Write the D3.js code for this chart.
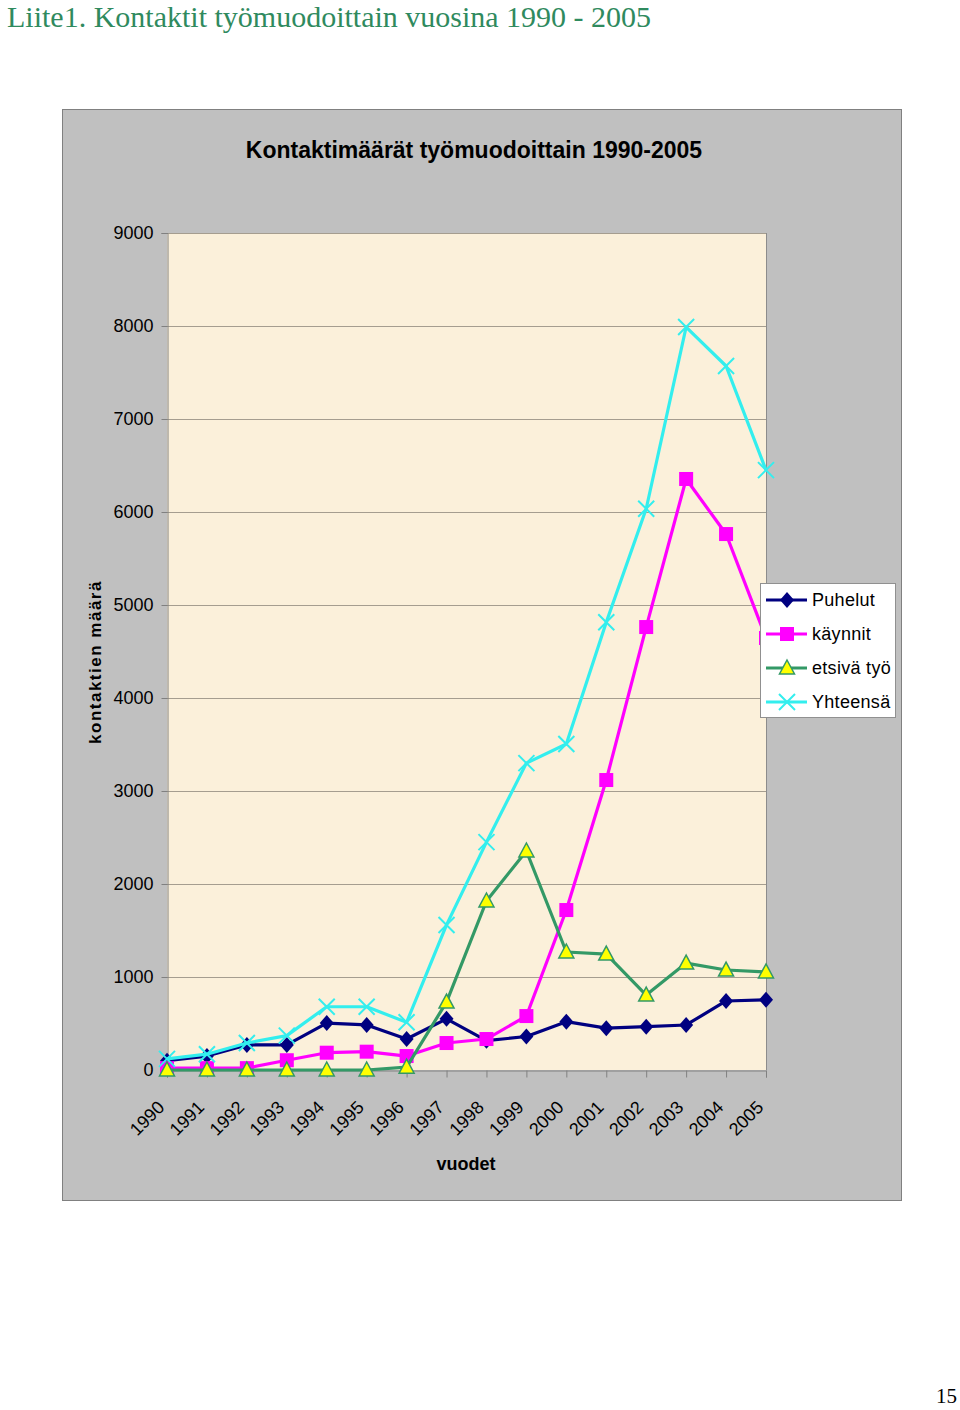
<!DOCTYPE html>
<html>
<head>
<meta charset="utf-8">
<script src="https://cdn.jsdelivr.net/npm/d3@7"></script>
<style>
  html, body { margin: 0; padding: 0; background: #ffffff; }
  svg { display: block; }
</style>
</head>
<body>
<div id="chart"></div>
<script>
// ---- data ----
const years = ["1990","1991","1992","1993","1994","1995","1996","1997","1998","1999","2000","2001","2002","2003","2004","2005"];
const puhelut   = [100, 150, 270, 270, 505, 485, 333, 550, 315, 360, 520, 450, 466, 484, 742, 755];
const kaynnit   = [20, 20, 20, 105, 186, 197, 150, 290, 333, 580, 1720, 3118, 4763, 6355, 5763, 4645];
const etsiva    = [0, 0, 0, 0, 0, 0, 30, 730, 1817, 2355, 1269, 1247, 806, 1150, 1075, 1054];
const yhteensa  = [120, 170, 290, 370, 680, 680, 513, 1560, 2450, 3300, 3505, 4815, 6035, 7989, 7570, 6450];
const yTicks    = [0, 1000, 2000, 3000, 4000, 5000, 6000, 7000, 8000, 9000];
const seriesNames = ["Puhelut", "käynnit", "etsivä työ", "Yhteensä"];

const W = 960, H = 1410;
const svg = d3.select("#chart").append("svg").attr("width", W).attr("height", H);

// page title
svg.append("text").attr("x", 7).attr("y", 27)
  .attr("font-family", "Liberation Serif, Times New Roman, serif")
  .attr("font-size", 30).attr("fill", "#2f8a5e")
  .text("Liite1. Kontaktit työmuodoittain vuosina 1990 - 2005");

// page number
svg.append("text").attr("x", 957).attr("y", 1403).attr("text-anchor", "end")
  .attr("font-family", "Liberation Serif, Times New Roman, serif")
  .attr("font-size", 21).attr("fill", "#000")
  .text("15");

// chart area
svg.append("rect").attr("x", 62.5).attr("y", 109.5).attr("width", 839).attr("height", 1091)
  .attr("fill", "#c0c0c0").attr("stroke", "#808080").attr("stroke-width", 1);

svg.append("text").attr("x", 474).attr("y", 158).attr("text-anchor", "middle")
  .attr("font-family", "Liberation Sans, Arial, sans-serif").attr("font-weight", "bold")
  .attr("font-size", 23).attr("fill", "#000")
  .text("Kontaktimäärät työmuodoittain 1990-2005");

const plot = { left: 167, right: 766, top: 233, bottom: 1070 };

const x = d3.scalePoint().domain(years).range([plot.left, plot.right]);
const y = d3.scaleLinear().domain([0, 9000]).range([plot.bottom, plot.top]);

// plot background
svg.append("rect").attr("x", plot.left).attr("y", plot.top)
  .attr("width", plot.right - plot.left).attr("height", plot.bottom - plot.top)
  .attr("fill", "#fbf0da");

// gridlines
svg.append("g").selectAll("line").data(yTicks.filter(d => d > 0)).join("line")
  .attr("x1", plot.left).attr("x2", plot.right)
  .attr("y1", d => Math.round(y(d)) + 0.5).attr("y2", d => Math.round(y(d)) + 0.5)
  .attr("stroke", "#a59d8f").attr("stroke-width", 1);

// right border of plot
svg.append("line").attr("x1", plot.right + 0.5).attr("x2", plot.right + 0.5)
  .attr("y1", plot.top).attr("y2", plot.bottom).attr("stroke", "#8c8c8c");

// y axis
const yAxis = svg.append("g").attr("transform", `translate(${plot.left + 0.5},0)`)
  .call(d3.axisLeft(y).tickValues(yTicks).tickSize(6).tickPadding(8).tickFormat(d3.format("d")));
yAxis.select(".domain").attr("stroke", "#808080");
yAxis.selectAll(".tick line").attr("stroke", "#808080");
yAxis.selectAll("text").attr("font-family", "Liberation Sans, Arial, sans-serif")
  .attr("font-size", 18).attr("fill", "#000");

// x axis
const xAxis = svg.append("g").attr("transform", `translate(0,${plot.bottom + 0.5})`)
  .call(d3.axisBottom(x).tickSize(7).tickFormat(d => d));
xAxis.select(".domain").attr("stroke", "#808080");
xAxis.selectAll(".tick line").attr("stroke", "#808080");
xAxis.selectAll("text")
  .attr("font-family", "Liberation Sans, Arial, sans-serif").attr("font-size", 18).attr("fill", "#000")
  .attr("text-anchor", "end").attr("dy", 0).attr("y", 0)
  .attr("transform", "translate(-2,38) rotate(-45)");

// axis titles
svg.append("text")
  .attr("transform", "translate(101,662) rotate(-90)").attr("text-anchor", "middle")
  .attr("font-family", "Liberation Sans, Arial, sans-serif").attr("font-weight", "bold")
  .attr("font-size", 17).attr("letter-spacing", 1.5).attr("fill", "#000")
  .text("kontaktien määrä");

svg.append("text").attr("x", 466).attr("y", 1170).attr("text-anchor", "middle")
  .attr("font-family", "Liberation Sans, Arial, sans-serif").attr("font-weight", "bold")
  .attr("font-size", 18).attr("fill", "#000")
  .text("vuodet");

// markers
const markers = {
  diamond: g => g.append("path").attr("d", "M0,-8L7,0L0,8L-7,0Z").attr("fill", "#000080"),
  square: g => g.append("rect").attr("x", -7).attr("y", -7).attr("width", 14).attr("height", 14).attr("fill", "#ff00ff"),
  triangle: g => g.append("path").attr("d", "M0,-8L7.5,6L-7.5,6Z").attr("fill", "#ffff00")
      .attr("stroke", "#339966").attr("stroke-width", 1.5),
  cross: g => g.append("path").attr("d", "M-8,-8L8,8M-8,8L8,-8").attr("fill", "none")
      .attr("stroke", "#33eeee").attr("stroke-width", 2)
};

const series = [
  { name: seriesNames[0], values: puhelut, color: "#000080", marker: "diamond" },
  { name: seriesNames[1], values: kaynnit, color: "#ff00ff", marker: "square" },
  { name: seriesNames[2], values: etsiva, color: "#339966", marker: "triangle" },
  { name: seriesNames[3], values: yhteensa, color: "#33eeee", marker: "cross" }
];

const line = d3.line().x((d, i) => x(years[i])).y(d => y(d));

series.forEach(s => {
  const g = svg.append("g");
  g.append("path").datum(s.values).attr("d", line)
    .attr("fill", "none").attr("stroke", s.color).attr("stroke-width", 3.2)
    .attr("stroke-linejoin", "round");
  s.values.forEach((v, i) => {
    const m = g.append("g").attr("transform", `translate(${x(years[i])},${y(v)})`);
    markers[s.marker](m);
  });
});

// legend
const lg = svg.append("g").attr("transform", "translate(760,583)");
lg.append("rect").attr("x", 0.5).attr("y", 0.5).attr("width", 135).attr("height", 134)
  .attr("fill", "#ffffff").attr("stroke", "#909090");
series.forEach((s, i) => {
  const yy = 17 + i * 34;
  lg.append("line").attr("x1", 6).attr("x2", 47).attr("y1", yy).attr("y2", yy)
    .attr("stroke", s.color).attr("stroke-width", 3);
  const m = lg.append("g").attr("transform", `translate(27,${yy})`);
  markers[s.marker](m);
  lg.append("text").attr("x", 52).attr("y", yy + 6)
    .attr("font-family", "Liberation Sans, Arial, sans-serif").attr("font-size", 18)
    .attr("letter-spacing", 0.3).attr("fill", "#000").text(s.name);
});
</script>
</body>
</html>
